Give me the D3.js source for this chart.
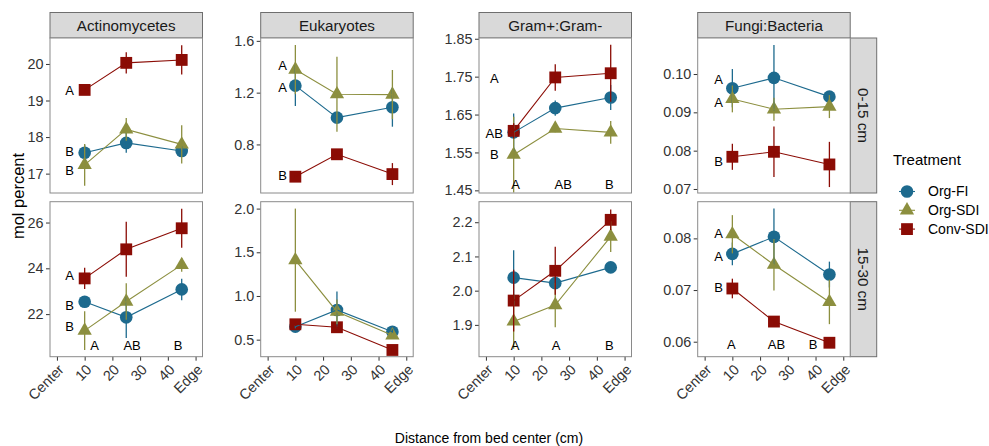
<!DOCTYPE html>
<html>
<head>
<meta charset="utf-8">
<script src="https://cdn.jsdelivr.net/npm/d3@7"></script>
<style>
    body { margin: 0; background: #fff; }
    svg { font-family: "Liberation Sans", Arial, Helvetica, sans-serif; }
</style>
</head>
<body>
<div id="chart"></div>
<script>
    'use strict';

    var distances = [10, 25, 45];
    var xTickValues = [0, 10, 20, 30, 40, 50];
    var xTickLabels = ["Center", "10", "20", "30", "40", "Edge"];
    var variables = ["Actinomycetes", "Eukaryotes", "Gram+:Gram-", "Fungi:Bacteria"];
    var depths = ["0-15 cm", "15-30 cm"];
    var treatments = ["Org-FI", "Org-SDI", "Conv-SDI"];

    // rows: Org-FI, Org-SDI, Conv-SDI / columns: distances
    var actinoTopMean = [[17.57, 17.84, 17.62], [17.24, 18.21, 17.80], [19.29, 20.03, 20.11]];
    var actinoTopSE = [[0.22, 0.27, 0.13], [0.57, 0.31, 0.52], [0.05, 0.29, 0.40]];
    var eukTopMean = [[1.254, 1.007, 1.087], [1.378, 1.188, 1.185], [0.551, 0.724, 0.571]];
    var eukTopSE = [[0.157, 0.04, 0.15], [0.19, 0.29, 0.19], [0.01, 0.02, 0.085]];
    var gramTopMean = [[1.603, 1.667, 1.695], [1.544, 1.613, 1.603], [1.607, 1.748, 1.759]];
    var gramTopSE = [[0.05, 0.02, 0.033], [0.1, 0.01, 0.03], [0.02, 0.035, 0.075]];
    var fungiTopMean = [[0.0963, 0.0990, 0.0941], [0.0935, 0.0908, 0.0915], [0.0784, 0.0797, 0.0764]];
    var fungiTopSE = [[0.005, 0.0086, 0.001], [0.0035, 0.003, 0.003], [0.0034, 0.0066, 0.0059]];

    var actinoBotMean = [[22.54, 21.86, 23.08], [21.28, 22.55, 24.15], [23.56, 24.83, 25.75]];
    var actinoBotSE = [[0.25, 0.9, 0.47], [0.85, 0.8, 0.3], [0.46, 1.2, 0.85]];
    var eukBotMean = [[0.649, 0.84, 0.59], [1.41, 0.82, 0.55], [0.676, 0.642, 0.382]];
    var eukBotSE = [[0.02, 0.21, 0.03], [0.59, 0.14, 0.03], [0.02, 0.03, 0.02]];
    var gramBotMean = [[2.038, 2.022, 2.068], [1.910, 1.958, 2.158], [1.971, 2.058, 2.207]];
    var gramBotSE = [[0.08, 0.015, 0.015], [0.08, 0.065, 0.045], [0.09, 0.07, 0.03]];
    var fungiBotMean = [[0.0770, 0.0803, 0.0730], [0.0808, 0.0749, 0.0677], [0.0703, 0.0639, 0.0598]];
    var fungiBotSE = [[0.0022, 0.0055, 0.0025], [0.0037, 0.005, 0.0043], [0.0019, 0.0005, 0.001]];

    var yDomains = [
        [[16.47, 20.71], [0.425, 1.622], [1.443, 1.852], [0.06895, 0.1094]],
        [[20.14, 26.91], [0.305, 2.079], [1.807, 2.260], [0.0571, 0.0871]]
    ];
    var yTicks = [
        [[17, 18, 19, 20], [0.8, 1.2, 1.6], [1.45, 1.55, 1.65, 1.75, 1.85], [0.07, 0.08, 0.09, 0.10]],
        [[22, 24, 26], [0.5, 1.0, 1.5, 2.0], [1.9, 2.0, 2.1, 2.2], [0.06, 0.07, 0.08]]
    ];
    var yFormats = [["d", ".1f", ".2f", ".2f"], ["d", ".1f", ".1f", ".2f"]];

    // letter groupings: [distance, value, text]
    var actinoTopLetters = [[4.6, 19.27, "A"], [4.6, 17.60, "B"], [4.6, 17.10, "B"]];
    var eukTopLetters = [[5.4, 1.414, "A"], [5.4, 1.239, "A"], [5.4, 0.564, "B"]];
    var gramTopLetters = [[3.0, 1.746, "A"], [3.0, 1.600, "AB"], [3.0, 1.546, "B"],
                          [10.7, 1.466, "A"], [27.9, 1.466, "AB"], [44.5, 1.466, "B"]];
    var fungiTopLetters = [[5.0, 0.0986, "A"], [5.0, 0.0925, "A"], [5.0, 0.0773, "B"]];
    var actinoBotLetters = [[4.6, 23.71, "A"], [4.6, 22.40, "B"], [4.6, 21.45, "B"],
                            [13.6, 20.65, "A"], [27.1, 20.65, "AB"], [43.7, 20.65, "B"]];
    var eukBotLetters = [];
    var gramBotLetters = [[10.5, 1.841, "A"], [25.3, 1.841, "A"], [44.5, 1.841, "B"]];
    var fungiBotLetters = [[5.0, 0.0810, "A"], [5.0, 0.0766, "A"], [5.0, 0.0705, "B"],
                           [9.6, 0.0594, "A"], [25.9, 0.0594, "AB"], [39.1, 0.0594, "B"]];

    var panels = [
        [[actinoTopMean, actinoTopSE, actinoTopLetters], [eukTopMean, eukTopSE, eukTopLetters],
         [gramTopMean, gramTopSE, gramTopLetters], [fungiTopMean, fungiTopSE, fungiTopLetters]],
        [[actinoBotMean, actinoBotSE, actinoBotLetters], [eukBotMean, eukBotSE, eukBotLetters],
         [gramBotMean, gramBotSE, gramBotLetters], [fungiBotMean, fungiBotSE, fungiBotLetters]]
    ];

    var colors = ["#1d6a8e", "#8c8f3f", "#8b0c05"];
    var shapes = [d3.symbolCircle, d3.symbolTriangle, d3.symbolSquare];
    var shapeSizes = [125, 88, 140];

    var width = 989,
        height = 446,
        panelLeft = [50, 260.7, 479, 697.7],
        panelW = 152.5,
        panelTop = [38, 201.7],
        panelH = 155,
        stripH = 25.5,
        stripW = 26.5,
        tickFont = "14.4px";

    var svg = d3.select("#chart").append("svg")
        .attr("width", width)
        .attr("height", height);

    var x = d3.scaleLinear()
        .domain([-2.5, 52.5])
        .range([0, panelW]);

    var symbol = d3.symbol();

    // column strips
    variables.forEach(function (v, j) {
        var s = svg.append("g")
            .attr("transform", "translate(" + panelLeft[j] + "," + (panelTop[0] - stripH) + ")");
        s.append("rect")
            .attr("width", panelW)
            .attr("height", stripH)
            .attr("fill", "#d9d9d9")
            .attr("stroke", "#6e6e6e")
            .attr("stroke-width", 1);
        s.append("text")
            .attr("x", panelW / 2)
            .attr("y", stripH / 2)
            .attr("dy", "0.35em")
            .attr("text-anchor", "middle")
            .style("font-size", "15.2px")
            .style("fill", "#1a1a1a")
            .text(v);
    });

    // row strips
    depths.forEach(function (d, i) {
        var s = svg.append("g")
            .attr("transform", "translate(" + (panelLeft[3] + panelW) + "," + panelTop[i] + ")");
        s.append("rect")
            .attr("width", stripW)
            .attr("height", panelH)
            .attr("fill", "#d9d9d9")
            .attr("stroke", "#6e6e6e")
            .attr("stroke-width", 1);
        s.append("text")
            .attr("transform", "translate(" + (stripW / 2) + "," + (panelH / 2) + ") rotate(90)")
            .attr("dy", "0.35em")
            .attr("text-anchor", "middle")
            .style("font-size", "15.2px")
            .style("fill", "#1a1a1a")
            .text(d);
    });

    panels.forEach(function (row, i) {
        row.forEach(function (p, j) {
            var means = p[0], ses = p[1], letters = p[2];

            var y = d3.scaleLinear()
                .domain(yDomains[i][j])
                .range([panelH, 0]);

            var g = svg.append("g")
                .attr("transform", "translate(" + panelLeft[j] + "," + panelTop[i] + ")");

            g.append("rect")
                .attr("width", panelW)
                .attr("height", panelH)
                .attr("fill", "#fff");

            var yAxis = g.append("g")
                .call(d3.axisLeft(y)
                    .tickValues(yTicks[i][j])
                    .tickFormat(d3.format(yFormats[i][j]))
                    .tickSize(4)
                    .tickPadding(2.5));
            yAxis.select(".domain").remove();
            yAxis.selectAll(".tick line").attr("stroke", "#333");
            yAxis.selectAll(".tick text")
                .style("font-size", tickFont)
                .style("fill", "#333")
                .style("font-family", "\"Liberation Sans\", Arial, sans-serif");

            if (i === 1) {
                var xAxis = g.append("g")
                    .attr("transform", "translate(0," + panelH + ")")
                    .call(d3.axisBottom(x)
                        .tickValues(xTickValues)
                        .tickFormat(function (d, k) { return xTickLabels[k]; })
                        .tickSize(4));
                xAxis.select(".domain").remove();
                xAxis.selectAll(".tick line").attr("stroke", "#333");
                xAxis.selectAll(".tick text")
                    .attr("x", 0)
                    .attr("y", 0)
                    .attr("dy", "0.72em")
                    .attr("transform", "translate(0,6.5) rotate(-45)")
                    .attr("text-anchor", "end")
                    .style("font-size", tickFont)
                    .style("fill", "#333")
                    .style("font-family", "\"Liberation Sans\", Arial, sans-serif");
            }

            var line = d3.line()
                .x(function (d, k) { return x(distances[k]); })
                .y(function (d) { return y(d); });

            // points first, then lines and error bars on top
            treatments.forEach(function (t, s) {
                g.selectAll(".pt" + s)
                    .data(means[s])
                    .enter().append("path")
                    .attr("transform", function (d, k) { return "translate(" + x(distances[k]) + "," + y(d) + ")"; })
                    .attr("d", symbol.type(shapes[s]).size(shapeSizes[s])())
                    .attr("fill", colors[s]);
            });

            treatments.forEach(function (t, s) {
                g.append("path")
                    .datum(means[s])
                    .attr("d", line)
                    .attr("fill", "none")
                    .attr("stroke", colors[s])
                    .attr("stroke-width", 1.1);

                g.selectAll(".err" + s)
                    .data(means[s])
                    .enter().append("line")
                    .attr("x1", function (d, k) { return x(distances[k]); })
                    .attr("x2", function (d, k) { return x(distances[k]); })
                    .attr("y1", function (d, k) { return y(d - ses[s][k]); })
                    .attr("y2", function (d, k) { return y(d + ses[s][k]); })
                    .attr("stroke", colors[s])
                    .attr("stroke-width", 1.3);
            });

            g.selectAll(".letter")
                .data(letters)
                .enter().append("text")
                .attr("x", function (d) { return x(d[0]); })
                .attr("y", function (d) { return y(d[1]); })
                .attr("dy", "0.36em")
                .attr("text-anchor", "middle")
                .style("font-size", "13px")
                .style("fill", "#000")
                .text(function (d) { return d[2]; });

            g.append("rect")
                .attr("width", panelW)
                .attr("height", panelH)
                .attr("fill", "none")
                .attr("stroke", "#8a8a8a")
                .attr("stroke-width", 1);
        });
    });

    svg.append("text")
        .attr("transform", "translate(18,196) rotate(-90)")
        .attr("dy", "0.35em")
        .attr("text-anchor", "middle")
        .style("font-size", "16.5px")
        .style("fill", "#000")
        .text("mol percent");

    svg.append("text")
        .attr("x", 489)
        .attr("y", 438)
        .attr("dy", "0.35em")
        .attr("text-anchor", "middle")
        .style("font-size", "14px")
        .style("fill", "#000")
        .text("Distance from bed center (cm)");

    // legend
    var legend = svg.append("g")
        .attr("transform", "translate(893,160)");

    legend.append("text")
        .attr("x", 0)
        .attr("y", 0)
        .attr("dy", "0.35em")
        .style("font-size", "15px")
        .style("fill", "#000")
        .text("Treatment");

    var keyY = d3.scalePoint()
        .domain(treatments)
        .range([31.5, 69.1]);

    treatments.forEach(function (t, s) {
        var k = legend.append("g")
            .attr("transform", "translate(0," + keyY(t) + ")");
        k.append("line")
            .attr("x1", 6)
            .attr("x2", 22)
            .attr("stroke", colors[s])
            .attr("stroke-width", 1.1);
        k.append("path")
            .attr("transform", "translate(14,0)")
            .attr("d", symbol.type(shapes[s]).size(shapeSizes[s])())
            .attr("fill", colors[s]);
        k.append("text")
            .attr("x", 35)
            .attr("dy", "0.35em")
            .style("font-size", "14px")
            .style("fill", "#000")
            .text(t);
    });
</script>
</body>
</html>
